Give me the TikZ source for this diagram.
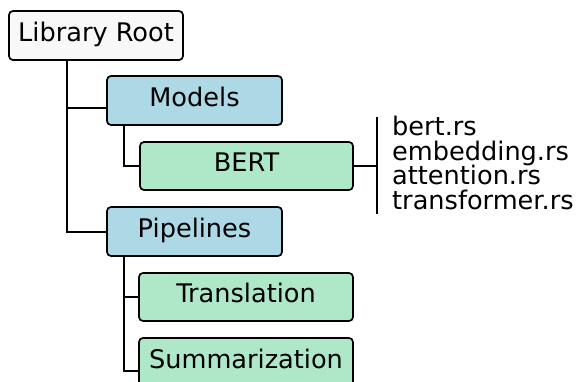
\documentclass[tikz,border=0pt]{standalone}
\usepackage{fontspec}
\setmainfont{DejaVu Sans}
\usetikzlibrary{calc,backgrounds}
\definecolor{rootfill}{HTML}{F8F8F8}
\definecolor{bluefill}{HTML}{ADD8E6}
\definecolor{greenfill}{HTML}{AFE8C8}
\tikzset{
  box/.style={draw=black, line width=1.7pt, rounded corners=4pt, inner sep=0pt,
    text height=18.5pt, text depth=6.5pt, font=\fontsize{25.6}{25.6}\selectfont},
  rootbox/.style={box, fill=rootfill, minimum width=174pt, minimum height=49pt},
  catbox/.style={box, fill=bluefill, minimum width=175pt, minimum height=49pt},
  leafbox/.style={box, fill=greenfill, minimum width=214pt, minimum height=48pt},
  conn/.style={draw=black, line width=1.7pt},
  filetext/.style={anchor=base west, inner sep=0pt, font=\fontsize{25.6}{25.6}\selectfont}
}
\begin{document}
\begin{tikzpicture}[x=1pt,y=-1pt]
\useasboundingbox (0,0) rectangle (582,382);
\clip (0,0) rectangle (582,382);
\node[rootbox] (root) at (96,35.5) {Library Root};
\node[catbox] (models) at (194.5,100.5) {Models};
\node[leafbox,minimum width=213pt] (bert) at (246.5,166) {BERT};
\node[catbox] (pipelines) at (194.5,231.5) {Pipelines};
\node[leafbox] (translation) at (246,297) {Translation};
\node[leafbox,minimum height=49pt] (summarization) at (246,362.5) {Summarization};
\coordinate (vtop) at (377,117);
\coordinate (vbot) at (377,214);
\node[filetext] (f1) at (392,136) {bert.rs};
\node[filetext] (f2) at (392,160.5) {embedding.rs};
\node[filetext] (f3) at (392,185) {attention.rs};
\node[filetext] (f4) at (392,209.5) {transformer.rs};
\begin{scope}[on background layer]
\fill[white] (0,0) rectangle (582,382);
\draw[conn] ([xshift=-29pt]root.south) |- ([yshift=-7.5pt]models.west);
\draw[conn] ([xshift=-29pt]root.south) |- ([yshift=-0.5pt]pipelines.west);
\draw[conn] ([xshift=-70.5pt]models.south) |- (bert.west);
\draw[conn] ([xshift=-70.5pt]pipelines.south) |- (translation.west);
\draw[conn] ([xshift=-70.5pt]pipelines.south) |- ([yshift=-8.5pt]summarization.west);
\draw[conn] (bert.east) -- (bert.east -| vtop);
\draw[conn] (vtop) -- (vbot);
\end{scope}
\end{tikzpicture}
\end{document}
